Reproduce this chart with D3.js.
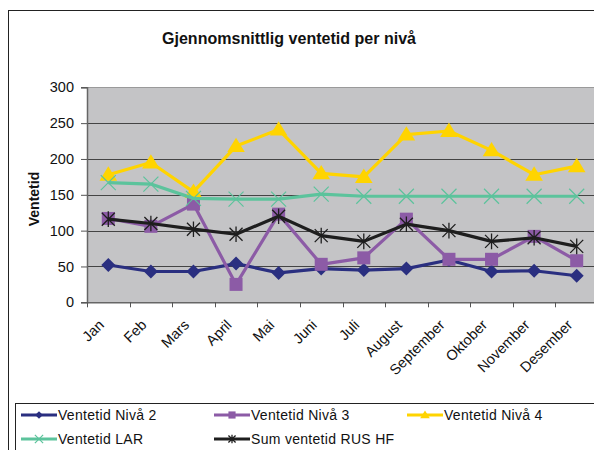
<!DOCTYPE html>
<html><head><meta charset="utf-8">
<script src="https://cdn.jsdelivr.net/npm/d3@7"></script>
<style>body{margin:0;background:#fff}svg{display:block;font-family:"Liberation Sans",Arial,sans-serif}</style>
</head><body>
<svg id="c" width="594" height="450"></svg>
<script>
const months = ["Jan","Feb","Mars","April","Mai","Juni","Juli","August","September","Oktober","November","Desember"];
const nivaa2 = [52, 43, 43, 54, 41, 47, 45, 47, 59, 43, 44, 37];
const nivaa3 = [117, 106, 137, 25, 123, 53, 62, 116, 60, 60, 92, 58];
const nivaa4 = [178, 195, 154, 218, 241, 180, 175, 234, 239, 212, 178, 190];
const lar = [167, 165, 145, 144, 144, 151, 148, 148, 148, 148, 148, 148];
const sumRus = [116, 110, 102, 95, 120, 93, 85, 109, 100, 85, 90, 78];
const yTicks = [0, 50, 100, 150, 200, 250, 300];
const seriesNames = ["Ventetid Nivå 2","Ventetid Nivå 3","Ventetid Nivå 4","Ventetid LAR","Sum ventetid RUS HF"];

const series = [
  {name: seriesNames[0], values: nivaa2, color: "#2a2f80", marker: "diamond"},
  {name: seriesNames[1], values: nivaa3, color: "#8c5ba6", marker: "square"},
  {name: seriesNames[2], values: nivaa4, color: "#ffd400", marker: "triangle"},
  {name: seriesNames[3], values: lar, color: "#5cc39c", marker: "x"},
  {name: seriesNames[4], values: sumRus, color: "#1e1e1e", marker: "star"}
];

const svg = d3.select("#c");
const L = 87, R = 598, T = 87.3, B = 302.3;
const x = d3.scaleBand().domain(months).range([L, R]);
const y = d3.scaleLinear().domain([0, 300]).range([B, T]);
const cx = m => x(m) + x.bandwidth() / 2;

// outer frame
svg.append("rect").attr("x", 8.5).attr("y", 10.5).attr("width", 700).attr("height", 600)
  .attr("fill", "#fff").attr("stroke", "#222").attr("stroke-width", 1);

// title
svg.append("text").attr("x", 162).attr("y", 44).attr("font-size", 17).attr("font-weight", "bold")
  .attr("textLength", 254).attr("lengthAdjust", "spacingAndGlyphs").attr("fill", "#111")
  .text("Gjennomsnittlig ventetid per nivå");

// plot area
svg.append("rect").attr("x", L).attr("y", T).attr("width", R - L).attr("height", B - T).attr("fill", "#c4c4c6");

// gridlines
svg.append("g").selectAll("line").data(yTicks.filter(d => d > 0)).join("line")
  .attr("x1", L).attr("x2", R).attr("y1", d => Math.round(y(d)) + 0.5).attr("y2", d => Math.round(y(d)) + 0.5)
  .attr("stroke", d => d === 300 ? "#9a9a9a" : "#444").attr("stroke-width", 1);

// y axis
const yAxis = svg.append("g").attr("transform", `translate(${L},0)`)
  .call(d3.axisLeft(y).tickValues(yTicks).tickSize(6).tickPadding(7));
yAxis.select(".domain").attr("stroke", "#666").attr("stroke-width", 1.5);
yAxis.selectAll(".tick line").attr("stroke", "#555");
yAxis.selectAll("text").attr("font-size", 14.5).attr("fill", "#111").attr("font-family", "Liberation Sans, Arial, sans-serif");

// x axis
const xAxis = svg.append("g").attr("transform", `translate(0,${B})`)
  .call(d3.axisBottom(x).tickSize(0).tickFormat(""));
xAxis.select(".domain").attr("stroke", "#666").attr("stroke-width", 1.5);
svg.append("g").selectAll("line").data(months).join("line")
  .attr("x1", d => Math.round(x(d)) + 0.5).attr("x2", d => Math.round(x(d)) + 0.5)
  .attr("y1", B).attr("y2", B + 5).attr("stroke", "#555");
svg.append("g").selectAll("text").data(months).join("text")
  .attr("transform", d => `translate(${cx(d) - 7},${B + 20}) rotate(-45)`)
  .attr("text-anchor", "end").attr("dy", "0.35em").attr("font-size", 14.5).attr("fill", "#111")
  .text(d => d);

// y label
svg.append("text").attr("transform", "translate(39,199) rotate(-90)").attr("text-anchor", "middle")
  .attr("font-size", 14).attr("font-weight", "bold").attr("fill", "#111").text("Ventetid");

function drawMarker(g, type, color, s) {
  if (type === "diamond") {
    g.append("path").attr("d", `M0,${-s}L${s},0L0,${s}L${-s},0Z`).attr("fill", color);
  } else if (type === "square") {
    g.append("rect").attr("x", -s).attr("y", -s).attr("width", 2 * s).attr("height", 2 * s).attr("fill", color);
  } else if (type === "triangle") {
    g.append("path").attr("d", `M0,${-s * 1.05}L${s * 1.1},${s * 0.75}L${-s * 1.1},${s * 0.75}Z`).attr("fill", color);
  } else if (type === "x") {
    g.append("path").attr("d", `M${-s},${-s}L${s},${s}M${-s},${s}L${s},${-s}`).attr("stroke", color).attr("stroke-width", 1.2).attr("fill", "none");
  } else if (type === "star") {
    g.append("path").attr("d", `M${-s},${-s}L${s},${s}M${-s},${s}L${s},${-s}M0,${-s * 1.2}L0,${s * 1.2}`).attr("stroke", color).attr("stroke-width", 1.3).attr("fill", "none");
  }
}
const mSize = {diamond: 7, square: 6.5, triangle: 8, x: 7.5, star: 6.5};

const line = d3.line().x((d, i) => cx(months[i])).y(d => y(d));
series.forEach(s => {
  const g = svg.append("g");
  g.append("path").attr("d", line(s.values)).attr("fill", "none").attr("stroke", s.color).attr("stroke-width", 3.2)
    .attr("stroke-linejoin", "round");
  s.values.forEach((v, i) => {
    const mg = g.append("g").attr("transform", `translate(${cx(months[i])},${y(v)})`);
    drawMarker(mg, s.marker, s.color, mSize[s.marker]);
  });
});

// legend
svg.append("rect").attr("x", 15.5).attr("y", 403.5).attr("width", 700).attr("height", 100)
  .attr("fill", "#fff").attr("stroke", "#222").attr("stroke-width", 1);
const legPos = [[21, 415], [214, 415], [407, 415], [21, 439], [214, 439]];
series.forEach((s, i) => {
  const [lx, ly] = legPos[i];
  const g = svg.append("g").attr("transform", `translate(${lx},${ly})`);
  g.append("line").attr("x1", 0).attr("x2", 36).attr("stroke", s.color).attr("stroke-width", 3);
  const mg = g.append("g").attr("transform", "translate(18,0)");
  drawMarker(mg, s.marker, s.color, mSize[s.marker] * 0.55);
  g.append("text").attr("x", 37).attr("dy", "0.35em").attr("font-size", 14).attr("fill", "#111")
    .attr("letter-spacing", 0.3).text(s.name);
});
</script>
</body></html>
